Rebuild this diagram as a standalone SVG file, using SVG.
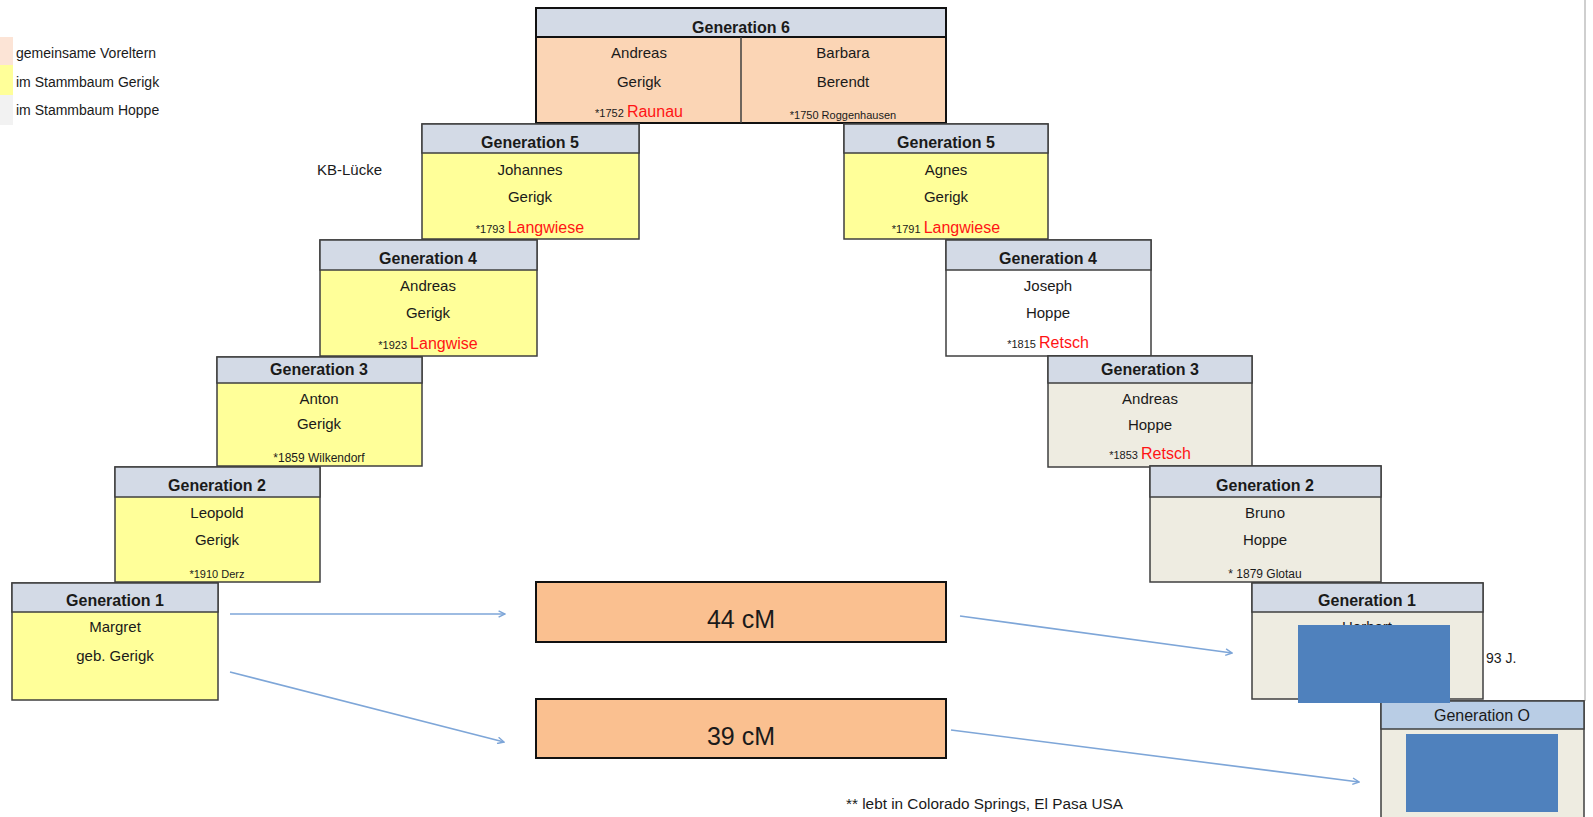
<svg xmlns="http://www.w3.org/2000/svg" width="1593" height="817" viewBox="0 0 1593 817">
<style>
text{font-family:"Liberation Sans",Arial,sans-serif;fill:#1a1a1a;text-anchor:middle}
.hd{font-weight:bold;font-size:16px}
.nm{font-size:15px}
.sm{font-size:11px}
.bt{font-size:12px}
.red{fill:#ff1414;font-size:16px}
.lg{font-size:14px;text-anchor:start}
.box{stroke:#3f3f3f;stroke-width:1.5}
.hdr{fill:#d3dae6}
.yel{fill:#ffff99}
.hop{fill:#eeece1}
.wht{fill:#ffffff}
.cm{fill:#fac090;stroke:#111;stroke-width:2}
.conn{stroke:#7ea6d8;stroke-width:1.6;fill:none}
.redact{fill:#4f81bd}
</style>
<defs>
<marker id="arr" viewBox="0 0 10 10" refX="9" refY="5" markerWidth="8" markerHeight="8" markerUnits="userSpaceOnUse" orient="auto">
<path d="M1,1 L9,5 L1,9" fill="none" stroke="#7ea6d8" stroke-width="1.8"/>
</marker>
</defs>
<rect width="1593" height="817" fill="#ffffff"/>
<line x1="1585" y1="0" x2="1585" y2="701" stroke="#cfcfcf" stroke-width="2"/>

<g id="legend">
<rect x="0" y="37" width="13" height="28" fill="#fce4d6"/>
<rect x="0" y="65" width="13" height="30" fill="#ffff99"/>
<rect x="0" y="95" width="13" height="30" fill="#f2f2f2"/>
<text class="lg" x="16" y="58">gemeinsame Voreltern</text>
<text class="lg" x="16" y="87">im Stammbaum Gerigk</text>
<text class="lg" x="16" y="115">im Stammbaum Hoppe</text>
</g>

<text x="317" y="175" style="text-anchor:start;font-size:15px">KB-Lücke</text>

<g id="gen6">
<rect x="536" y="8" width="410" height="115" fill="#fbd5b5" stroke="#111" stroke-width="2"/>
<rect x="536" y="8" width="410" height="29" class="hdr" stroke="#111" stroke-width="2"/>
<line x1="741" y1="37" x2="741" y2="123" stroke="#3f3f3f" stroke-width="1.5"/>
<text class="hd" x="741" y="33">Generation 6</text>
<text class="nm" x="639" y="58">Andreas</text>
<text class="nm" x="639" y="87">Gerigk</text>
<text x="639" y="117"><tspan class="sm">*1752 </tspan><tspan class="red">Raunau</tspan></text>
<text class="nm" x="843" y="58">Barbara</text>
<text class="nm" x="843" y="87">Berendt</text>
<text class="sm" x="843" y="119">*1750 Roggenhausen</text>
</g>

<g id="gen5-left">
<rect x="422" y="124" width="217" height="115" class="box yel"/>
<rect x="422" y="124" width="217" height="29" class="box hdr"/>
<text class="hd" x="530" y="148">Generation 5</text>
<text class="nm" x="530" y="175">Johannes</text>
<text class="nm" x="530" y="202">Gerigk</text>
<text x="530" y="233"><tspan class="sm">*1793 </tspan><tspan class="red">Langwiese</tspan></text>
</g>

<g id="gen5-right">
<rect x="844" y="124" width="204" height="115" class="box yel"/>
<rect x="844" y="124" width="204" height="29" class="box hdr"/>
<text class="hd" x="946" y="148">Generation 5</text>
<text class="nm" x="946" y="175">Agnes</text>
<text class="nm" x="946" y="202">Gerigk</text>
<text x="946" y="233"><tspan class="sm">*1791 </tspan><tspan class="red">Langwiese</tspan></text>
</g>

<g id="gen4-left">
<rect x="320" y="240" width="217" height="116" class="box yel"/>
<rect x="320" y="240" width="217" height="30" class="box hdr"/>
<text class="hd" x="428" y="264">Generation 4</text>
<text class="nm" x="428" y="291">Andreas</text>
<text class="nm" x="428" y="318">Gerigk</text>
<text x="428" y="349"><tspan class="sm">*1923 </tspan><tspan class="red">Langwise</tspan></text>
</g>

<g id="gen4-right">
<rect x="946" y="240" width="205" height="116" class="box wht"/>
<rect x="946" y="240" width="205" height="30" class="box hdr"/>
<text class="hd" x="1048" y="264">Generation 4</text>
<text class="nm" x="1048" y="291">Joseph</text>
<text class="nm" x="1048" y="318">Hoppe</text>
<text x="1048" y="348"><tspan class="sm">*1815 </tspan><tspan class="red">Retsch</tspan></text>
</g>

<g id="gen3-left">
<rect x="217" y="357" width="205" height="109" class="box yel"/>
<rect x="217" y="357" width="205" height="26" class="box hdr"/>
<text class="hd" x="319" y="375">Generation 3</text>
<text class="nm" x="319" y="404">Anton</text>
<text class="nm" x="319" y="429">Gerigk</text>
<text class="bt" x="319" y="462">*1859 Wilkendorf</text>
</g>

<g id="gen3-right">
<rect x="1048" y="356" width="204" height="111" class="box hop"/>
<rect x="1048" y="356" width="204" height="27" class="box hdr"/>
<text class="hd" x="1150" y="375">Generation 3</text>
<text class="nm" x="1150" y="404">Andreas</text>
<text class="nm" x="1150" y="430">Hoppe</text>
<text x="1150" y="459"><tspan class="sm">*1853 </tspan><tspan class="red">Retsch</tspan></text>
</g>

<g id="gen2-left">
<rect x="115" y="467" width="205" height="115" class="box yel"/>
<rect x="115" y="467" width="205" height="30" class="box hdr"/>
<text class="hd" x="217" y="491">Generation 2</text>
<text class="nm" x="217" y="518">Leopold</text>
<text class="nm" x="217" y="545">Gerigk</text>
<text class="sm" x="217" y="578">*1910 Derz</text>
</g>

<g id="gen2-right">
<rect x="1150" y="466" width="231" height="116" class="box hop"/>
<rect x="1150" y="466" width="231" height="31" class="box hdr"/>
<text class="hd" x="1265" y="491">Generation 2</text>
<text class="nm" x="1265" y="518">Bruno</text>
<text class="nm" x="1265" y="545">Hoppe</text>
<text class="bt" x="1265" y="578">* 1879 Glotau</text>
</g>

<g id="gen1-left">
<rect x="12" y="583" width="206" height="117" class="box yel"/>
<rect x="12" y="583" width="206" height="29" class="box hdr"/>
<text class="hd" x="115" y="606">Generation 1</text>
<text class="nm" x="115" y="632">Margret</text>
<text class="nm" x="115" y="661">geb. Gerigk</text>
</g>

<g id="cm44">
<rect x="536" y="582" width="410" height="60" class="cm"/>
<text x="741" y="628" style="font-size:25px">44 cM</text>
</g>

<g id="cm39">
<rect x="536" y="699" width="410" height="59" class="cm"/>
<text x="741" y="745" style="font-size:25px">39 cM</text>
</g>

<g id="gen1-right">
<rect x="1252" y="583" width="231" height="116" class="box hop"/>
<rect x="1252" y="583" width="231" height="29" class="box hdr"/>
<text class="hd" x="1367" y="606">Generation 1</text>
<text class="nm" x="1367" y="632">Herbert</text>
<text x="1486" y="663" style="text-anchor:start;font-size:14px">93 J.</text>
</g>

<g id="gen0">
<rect x="1381" y="701" width="203" height="117" class="box hop"/>
<rect x="1381" y="701" width="203" height="28" class="box" fill="#b9cde5"/>
<text x="1482" y="721" style="font-size:16px">Generation O</text>
</g>

<g id="redactions">
<rect x="1298" y="625" width="152" height="78" class="redact"/>
<rect x="1406" y="734" width="152" height="78" class="redact"/>
</g>

<g id="connectors">
<line x1="230" y1="614" x2="505" y2="614" class="conn" marker-end="url(#arr)"/>
<line x1="230" y1="672" x2="504" y2="742" class="conn" marker-end="url(#arr)"/>
<line x1="960" y1="616" x2="1232" y2="653" class="conn" marker-end="url(#arr)"/>
<line x1="951" y1="730" x2="1359" y2="782" class="conn" marker-end="url(#arr)"/>
</g>

<text x="846" y="809" style="text-anchor:start;font-size:14px" textLength="277" lengthAdjust="spacingAndGlyphs">** lebt in Colorado Springs, El Pasa USA</text>
</svg>
